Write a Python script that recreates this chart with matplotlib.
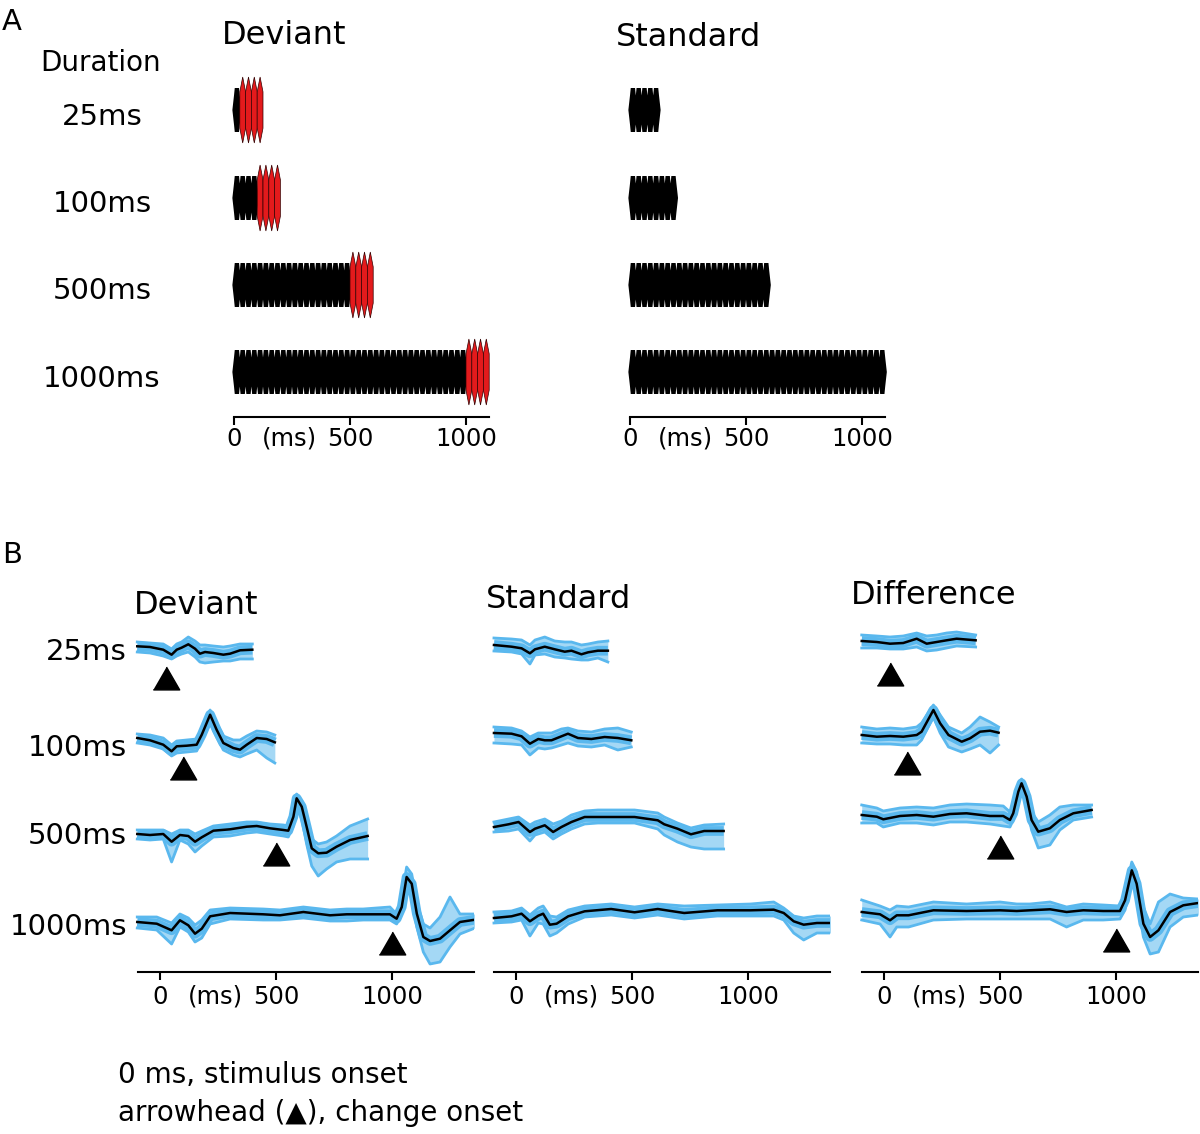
import numpy as np
import matplotlib.pyplot as plt
from matplotlib.patches import Polygon

W, H = 1200, 1134
plt.rcParams['font.family'] = ['DejaVu Sans']

# stimulus design (panel A)
durations = [25, 100, 500, 1000]
duration_labels = ['25ms', '100ms', '500ms', '1000ms']
deviant_ms = 100
pip_ms = 25
tick_values = [0, 500, 1000]
tick_labels = ['0', '500', '1000']
change_onsets = [25, 100, 500, 1000]

# responses (panel B), amplitude in arbitrary units, one list per duration row
dev_t = [
    [-98, -43, 14, 50, 72, 93, 122, 151, 172, 194, 230, 273, 302, 345, 398],
    [-98, -43, 14, 50, 72, 115, 158, 180, 216, 244, 273, 316, 345, 374, 417, 460, 495],
    [-98, -43, 14, 50, 86, 122, 151, 180, 230, 302, 374, 417, 474, 532, 553, 575, 589,
     611, 632, 654, 682, 718, 761, 819, 895],
    [-98, -14, 50, 86, 122, 151, 180, 216, 302, 445, 517, 618, 733, 805, 876, 991, 1020,
     1042, 1063, 1085, 1107, 1135, 1164, 1207, 1250, 1293, 1358],
]
dev_mean = [
    [0.7, 0, -2.7, -7.7, -2.7, -0.7, 2.7, -1.7, -6.7, -5, -6, -7.7, -6.7, -3.3, -2.7],
    [0, -2.3, -6.7, -13.3, -8.3, -7.7, -6.7, 3.3, 23.3, 8.3, -5, -10, -11.7, -6.7, 0, -1, -4.3],
    [0, -1, 0, -7.7, -1, -2, -7.7, -3.3, 3.3, 4.7, 7.3, 8, 5.7, 4, 3.3, 17.3, 35.7,
     27.3, 7.3, -14.3, -19.3, -18.7, -12.7, -6, -2],
    [0, -1.7, -8.3, 1.7, -3.3, -11.7, -6.7, 5.7, 9, 7.7, 6.7, 10, 6.7, 7.7, 7.7, 7.7, 3.3,
     15, 45, 38.3, 8.3, -15, -19, -16.7, -8.3, 0, 2.3],
]
dev_hi = [
    [5, 4, 3, -2, 3, 5, 10, 6, 2, 2, 1, 0, 1, 3, 3],
    [4, 3, 0, -7, -3, -2, -1, 10, 28, 15, 2, -2, -2, 2, 7, 6, 3],
    [4, 4, 4, 0, 4, 4, 0, 3, 8, 10, 12, 12, 10, 9, 8, 25, 40, 33, 15, -5, -10, -8, -2, 8, 15],
    [5, 5, -1, 8, 4, -3, 2, 12, 14, 13, 12, 15, 12, 13, 13, 15, 8, 25, 55, 48, 20, -2, -6,
     5, 25, 8, 8],
]
dev_lo = [
    [-5, -6, -9, -12, -9, -7, -5, -10, -15, -16, -15, -14, -14, -12, -12],
    [-5, -7, -11, -18, -15, -14, -13, -3, 15, 1, -12, -17, -19, -16, -12, -20, -25],
    [-5, -6, -5, -28, -6, -10, -18, -12, -3, -2, 1, 2, 0, -2, -3, 8, 27, 15, -10, -32, -42,
     -35, -28, -25, -25],
    [-6, -8, -22, -5, -10, -20, -16, -2, 3, 2, 2, 4, 1, 1, 2, 2, -2, 8, 38, 25, -5, -30,
     -42, -40, -25, -12, -6],
]

std_t = [
    [-95, -19, 24, 60, 82, 124, 167, 210, 239, 282, 311, 353, 396],
    [-95, -19, 24, 60, 96, 124, 153, 196, 224, 267, 325, 382, 439, 497],
    [-95, -32, 11, 60, 82, 124, 160, 196, 239, 296, 353, 439, 511, 611, 639, 696, 754, 811, 895],
    [-95, -19, 24, 60, 96, 117, 146, 175, 225, 296, 410, 511, 611, 725, 868, 1011, 1111,
     1154, 1197, 1240, 1297, 1356],
]
std_mean = [
    [0, -1.7, -3.3, -8.3, -4.3, -1.7, -4.3, -6.7, -5.7, -9.3, -7.3, -5.7, -5.7],
    [0, -0.7, -3.3, -10.7, -6, -7.3, -7.3, -3.3, -0.7, -5, -6, -4, -5, -7.3],
    [0, 2.7, 5, -5, -1.7, 1.7, -5, 0, 5, 10, 10, 10, 10, 6.7, 2.7, -1.7, -7.3, -4, -4],
    [0, 1.7, 4.3, -3.3, 2.3, 4.3, -6.7, -5.7, 1.7, 6.7, 9, 5.7, 9, 5, 7.7, 7.7, 8.3, 5,
     -3.3, -6.7, -5, -5],
]
std_hi = [
    [7, 6, 5, 0, 5, 8, 4, 3, 3, 0, 1, 3, 4],
    [6, 5, 2, -4, 0, 0, 0, 4, 5, 2, 1, 4, 5, 1],
    [5, 8, 10, 2, 5, 8, 3, 6, 12, 16, 17, 17, 17, 14, 10, 4, -1, 2, 3],
    [6, 7, 10, 3, 10, 12, 2, 1, 8, 12, 14, 11, 14, 12, 13, 14, 16, 10, 2, 0, 2, 2],
]
std_lo = [
    [-6, -7, -9, -19, -10, -9, -12, -13, -14, -15, -15, -13, -17],
    [-10, -11, -12, -22, -15, -16, -15, -12, -10, -13, -14, -12, -17, -14],
    [-5, -4, -2, -14, -8, -5, -12, -7, -2, 3, 4, 4, 4, -2, -8, -15, -20, -22, -22],
    [-5, -4, -2, -18, -5, -6, -18, -15, -6, 1, 3, 0, 3, -1, 2, 2, 2, -2, -15, -22, -15, -15],
]

diff_t = [
    [-96, -31, 26, 83, 141, 184, 227, 270, 313, 395],
    [-96, -31, 26, 83, 141, 162, 213, 242, 278, 335, 371, 414, 457, 494],
    [-96, -31, -3, 69, 141, 213, 284, 356, 457, 514, 543, 557, 579, 593, 615, 636, 665,
     715, 758, 816, 895],
    [-96, -17, 26, 55, 106, 213, 356, 500, 572, 629, 716, 787, 859, 945, 1017, 1039, 1068,
     1089, 1118, 1147, 1183, 1233, 1290, 1355],
]
diff_mean = [
    [0, -1, -2.7, -2, 2.3, -2.7, -1, 0.7, 2.3, 0.7],
    [0, -1.7, -1, -1.7, 0, 3.3, 25, 11.7, 0, -6.7, -3.3, 3.3, 4.3, 2.3],
    [0, -1.7, -4.3, -1, 0, -1.7, 1, 1.7, -1, -1, -5, 1.7, 23.3, 31.7, 18.3, -5, -16.7,
     -13.3, -5, 1.7, 5],
    [0, -2.3, -8.3, -3.3, -3.3, 1.7, 1, 1.7, 1, 1.7, 2.7, 0, 1.7, 1, 1, 11.7, 41.7, 28.3,
     -11.7, -25, -18.3, 0, 6.7, 9],
]
diff_hi = [
    [6, 5, 4, 5, 8, 5, 6, 8, 9, 6],
    [8, 6, 7, 6, 8, 12, 30, 20, 8, 2, 8, 18, 13, 8],
    [10, 7, 4, 7, 8, 7, 10, 11, 10, 9, 3, 10, 30, 36, 24, 3, -7, 0, 8, 10, 10],
    [12, 6, 2, 6, 5, 10, 8, 10, 8, 8, 10, 5, 8, 7, 6, 20, 50, 40, 5, -12, 10, 18, 14, 13],
]
diff_lo = [
    [-7, -7, -8, -8, -6, -10, -9, -7, -5, -6],
    [-8, -9, -9, -10, -10, -5, 18, 2, -12, -17, -14, -10, -18, -10],
    [-8, -8, -12, -8, -8, -10, -7, -7, -9, -11, -12, -5, 15, 25, 10, -15, -33, -30, -15, -5, -2],
    [-8, -12, -25, -15, -15, -8, -7, -7, -7, -7, -7, -15, -8, -8, -7, 2, 32, 15, -25, -42,
     -40, -15, -5, -3],
]

BLUE = '#5ab8ee'
RED = '#e31a1c'

fig = plt.figure(figsize=(W / 100, H / 100), dpi=100)


def px_axes(left, top, right, bottom):
    return fig.add_axes([left / W, 1 - bottom / H, (right - left) / W, (bottom - top) / H])


def px_text(x, y, s, **kw):
    kw.setdefault('va', 'center')
    fig.text(x / W, 1 - y / H, s, **kw)


def style_time_axis(ax, lo, hi, pad):
    for side in ['left', 'right', 'top']:
        ax.spines[side].set_visible(False)
    ax.spines['bottom'].set_linewidth(1.5)
    ax.spines['bottom'].set_bounds(lo, hi)
    ax.set_yticks([])
    ax.set_xticks(tick_values, tick_labels)
    ax.set_xticks([237], ['(ms)'], minor=True)
    ax.tick_params(axis='x', which='major', direction='out', length=6, width=1.5,
                   labelsize=17.5, pad=pad)
    ax.tick_params(axis='x', which='minor', length=0, labelsize=17.5, pad=pad + 6)


# ---------- panel A: stimulus trains ----------
def draw_train(ax, start, length, yc, h=22):
    n = int(round(length / pip_ms))
    top, bot = [], []
    for i in range(n):
        x0 = start + i * pip_ms
        top += [(x0, yc + 0.66 * h), (x0 + 0.13 * pip_ms, yc + h), (x0 + 0.87 * pip_ms, yc + h)]
        bot += [(x0, yc - 0.66 * h), (x0 + 0.13 * pip_ms, yc - h), (x0 + 0.87 * pip_ms, yc - h)]
    end = start + n * pip_ms
    top.append((end, yc + 0.66 * h))
    bot.append((end, yc - 0.66 * h))
    verts = [(start - 7, yc)] + top + [(end + 7, yc)] + bot[::-1]
    ax.add_patch(Polygon(verts, closed=True, facecolor='black', edgecolor='none'))


def draw_red(ax, start, length, yc, h=33):
    n = int(round(length / pip_ms))
    for i in range(n):
        x0 = start + i * pip_ms
        w = pip_ms
        verts = [(x0, yc - 0.55 * h), (x0 + w / 2, yc - h), (x0 + w, yc - 0.55 * h),
                 (x0 + w, yc + 0.55 * h), (x0 + w / 2, yc + h), (x0, yc + 0.55 * h)]
        ax.add_patch(Polygon(verts, closed=True, facecolor=RED, edgecolor='#300000', lw=0.5))


a_rows = [307, 219, 132, 45]
a_scale = 0.232
for zero_px, kind in [(234, 'deviant'), (630, 'standard')]:
    ax = px_axes(zero_px - 12, 60, zero_px + 266, 417)
    ax.set_xlim(-12 / a_scale, 266 / a_scale)
    ax.set_ylim(0, 357)
    style_time_axis(ax, 0, 1100, pad=1)
    for dur, yc in zip(durations, a_rows):
        if kind == 'deviant':
            draw_train(ax, 0, dur, yc)
            draw_red(ax, dur, deviant_ms, yc)
        else:
            draw_train(ax, 0, dur + deviant_ms, yc)

px_text(2, 22, 'A', fontsize=21)
px_text(101, 63, 'Duration', fontsize=20, ha='center')
for lab, y in zip(duration_labels, [117, 204, 291, 379]):
    px_text(102, y, lab, fontsize=21, ha='center')
px_text(222, 35, 'Deviant', fontsize=23)
px_text(616, 37, 'Standard', fontsize=23)

# ---------- panel B: responses ----------
b_scale = 0.232
columns = [
    (160, dev_t, dev_mean, dev_hi, dev_lo, [325, 234, 138, 50], [31, 30, 20, 21]),
    (516, std_t, std_mean, std_hi, std_lo, [327, 239, 145, 54], None),
    (884, diff_t, diff_mean, diff_hi, diff_lo, [331, 237, 157, 60], [33, 28, 32, 28]),
]
tri = [(-1, -0.866), (1, -0.866), (0, 0.866)]
for zero_px, ts, ms, his, los, bases, arrows in columns:
    ax = px_axes(zero_px - 30, 610, zero_px + 314, 972)
    ax.set_xlim(-30 / b_scale, 314 / b_scale)
    ax.set_ylim(0, 362)
    style_time_axis(ax, -95, 1353, pad=3)
    for i in range(4):
        t = np.array(ts[i])
        b = bases[i]
        hi = np.array(his[i]) + b
        lo = np.array(los[i]) + b
        mean = np.array(ms[i]) + b
        ax.fill_between(t, lo, hi, color=BLUE, alpha=0.55, lw=0)
        ax.plot(t, hi, color=BLUE, lw=2)
        ax.plot(t, lo, color=BLUE, lw=2)
        ax.plot(t, mean, color=BLUE, lw=7, solid_capstyle='butt')
        ax.plot(t, mean, color='black', lw=1.8)
        if arrows is not None:
            ax.plot([change_onsets[i]], [b - arrows[i]], marker=tri, markersize=19,
                    color='black', linestyle='none')

px_text(2, 555, 'B', fontsize=21)
px_text(134, 605, 'Deviant', fontsize=23)
px_text(486, 600, 'Standard', fontsize=23)
px_text(851, 595, 'Difference', fontsize=23)
for lab, y in zip(duration_labels, [652, 748, 836, 927]):
    px_text(127, y, lab, fontsize=21, ha='right')

px_text(118, 1075, '0 ms, stimulus onset', fontsize=20)
px_text(118, 1113, 'arrowhead (\u25b2), change onset', fontsize=20)

fig.savefig('out.png', dpi=100)
